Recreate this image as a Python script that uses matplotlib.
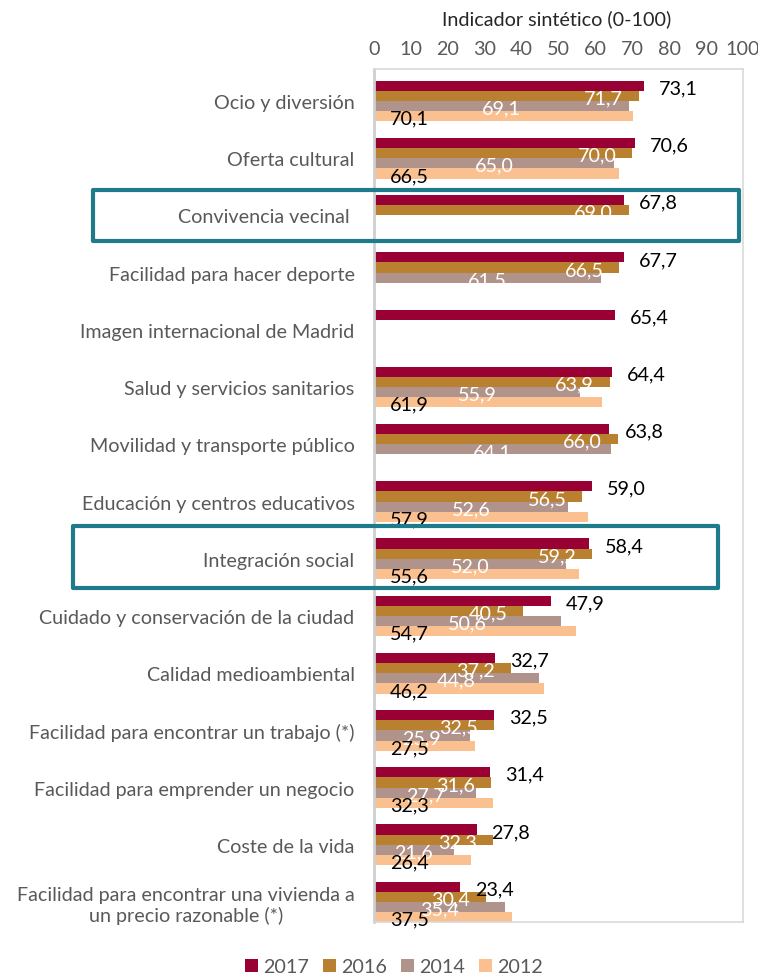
import numpy as np
import matplotlib.pyplot as plt
from matplotlib.patches import Rectangle
from matplotlib.transforms import blended_transform_factory

plt.rcParams['font.family'] = ['Lato', 'DejaVu Sans']

# Indicador sintético por área y año
categorias = [
    "Ocio y diversión",
    "Oferta cultural",
    "Convivencia vecinal ",
    "Facilidad para hacer deporte",
    "Imagen internacional de Madrid",
    "Salud y servicios sanitarios",
    "Movilidad y transporte público",
    "Educación y centros educativos",
    "Integración social",
    "Cuidado y conservación de la ciudad",
    "Calidad medioambiental",
    "Facilidad para encontrar un trabajo (*)",
    "Facilidad para emprender un negocio",
    "Coste de la vida",
    "Facilidad para encontrar una vivienda a\nun precio razonable (*)",
]
anios = ["2017", "2016", "2014", "2012"]
v2017 = [73.1, 70.6, 67.8, 67.7, 65.4, 64.4, 63.8, 59.0, 58.4, 47.9, 32.7, 32.5, 31.4, 27.8, 23.4]
v2016 = [71.7, 70.0, 69.0, 66.5, None, 63.9, 66.0, 56.5, 59.2, 40.5, 37.2, 32.5, 31.6, 32.3, 30.4]
v2014 = [69.1, 65.0, None, 61.5, None, 55.9, 64.1, 52.6, 52.0, 50.6, 44.8, 25.9, 27.7, 21.6, 35.4]
v2012 = [70.1, 66.5, None, None, None, 61.9, None, 57.9, 55.6, 54.7, 46.2, 27.5, 32.3, 26.4, 37.5]
xticks = [0, 10, 20, 30, 40, 50, 60, 70, 80, 90, 100]
destacadas = ["Convivencia vecinal ", "Integración social"]

colores = ['#990033', '#B8802F', '#B0938A', '#FAC090']
gris = '#595959'
fs = 14.2

fig = plt.figure(figsize=(7.58, 9.79), dpi=100)
ax = fig.add_axes([374 / 758, 1 - 923 / 979, 369 / 758, 853 / 979])

n = len(categorias)
y = np.arange(n)
h = 0.178
series = [v2017, v2016, v2014, v2012]

def fmt(v):
    return f"{v:.1f}".replace('.', ',')

for k, (vals, col) in enumerate(zip(series, colores)):
    yy = y + (k - 1.5) * h
    for yi, v in zip(yy, vals):
        if v is None:
            continue
        ax.barh(yi, v, height=h, color=col, label=anios[k] if yi == yy[0] else None)
        if k == 0:
            # 2017: fuera, al final de la barra
            ax.annotate(fmt(v), (v, yi), xytext=(15, -2), textcoords='offset pixels',
                        ha='left', va='center', fontsize=fs, color='black')
        elif k == 1:
            # 2016: dentro, al final
            ax.annotate(fmt(v), (v, yi), xytext=(-16, -2), textcoords='offset pixels',
                        ha='right', va='center', fontsize=fs, color='white')
        elif k == 2:
            # 2014: centrado
            ax.annotate(fmt(v), (v / 2, yi), xytext=(0, -2), textcoords='offset pixels',
                        ha='center', va='center', fontsize=fs, color='white')
        else:
            # 2012: dentro, en la base
            ax.annotate(fmt(v), (0, yi), xytext=(16, -2), textcoords='offset pixels',
                        ha='left', va='center', fontsize=fs, color='black')

ax.set_xlim(0, 100)
ax.set_ylim(n - 1 + 0.35, -0.56)
ax.set_yticks(y)
ax.set_yticklabels(categorias, fontsize=fs, color=gris, multialignment='center')
ax.set_xticks(xticks)
ax.set_xticklabels([str(t) for t in xticks], fontsize=fs, color=gris)
ax.xaxis.tick_top()
ax.tick_params(axis='both', length=0)
ax.tick_params(axis='x', pad=9)
ax.tick_params(axis='y', pad=14)
for s in ax.spines.values():
    s.set_color('#d9d9d9')
    s.set_linewidth(1.2)
ax.spines['left'].set_color('#cfcfcf')
ax.spines['left'].set_linewidth(2)

fig.text(557 / 758, 1 - 19 / 979, "Indicador sintético (0-100)", ha='center', va='center',
         fontsize=fs, color='#262626')

# Recuadros de las áreas destacadas
tr = blended_transform_factory(fig.transFigure, ax.transData)
cajas = {"Convivencia vecinal ": (93, 739, -0.45, 0.44), "Integración social": (73, 718, -0.58, 0.51)}
for nombre in destacadas:
    x0, x1, dy0, dy1 = cajas[nombre]
    i = categorias.index(nombre)
    ax.add_patch(Rectangle((x0 / 758, i + dy0), (x1 - x0) / 758, dy1 - dy0, transform=tr,
                           fill=False, edgecolor='#1F7A8C', linewidth=3, clip_on=False,
                           joinstyle='round', zorder=5))

fig.legend(loc='center', bbox_to_anchor=(394 / 758, 1 - 968 / 979), ncol=4, frameon=False,
           fontsize=fs, labelcolor=gris, handlelength=0.68, handleheight=0.68,
           handletextpad=0.25, columnspacing=0.7)

fig.savefig('out.png', dpi=100)
